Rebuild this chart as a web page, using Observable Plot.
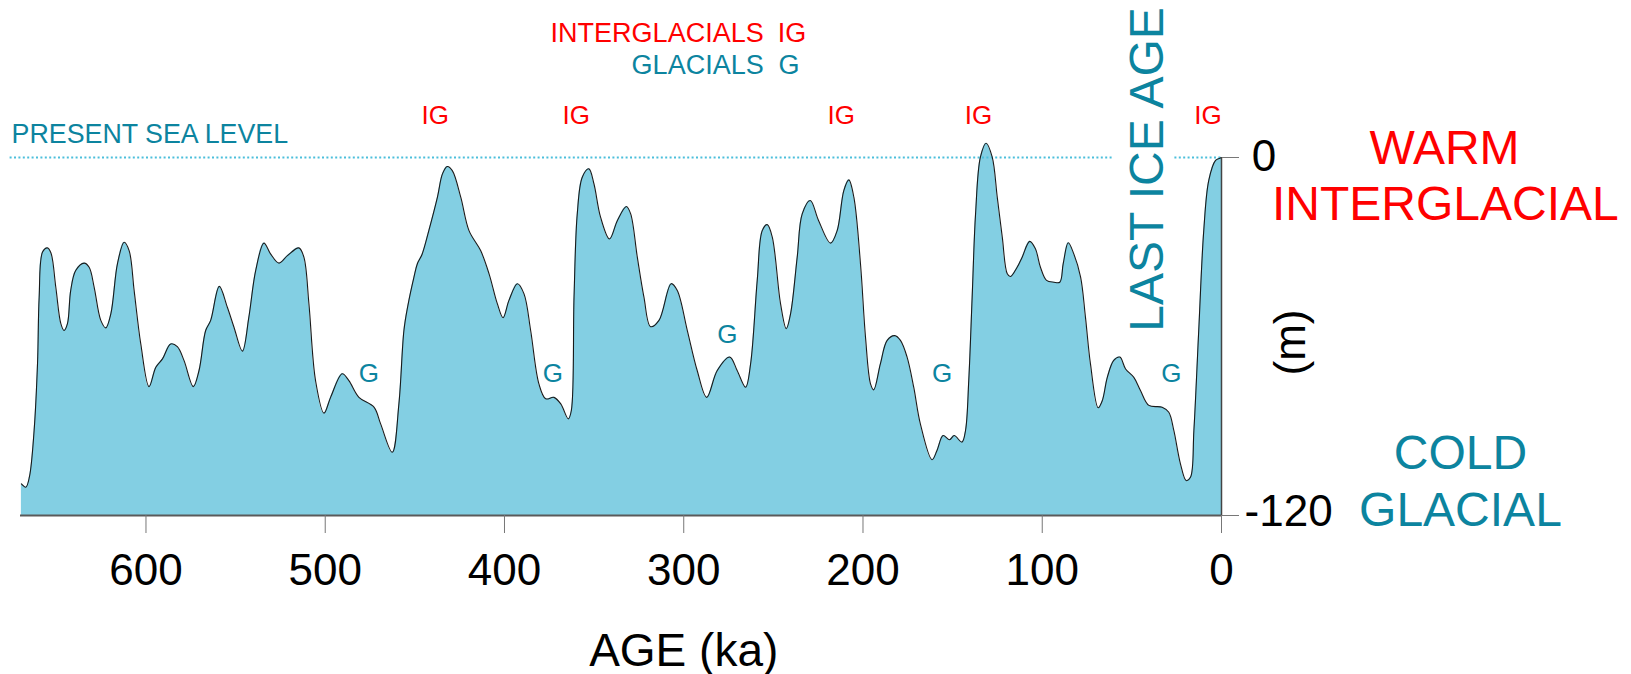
<!DOCTYPE html>
<html><head><meta charset="utf-8">
<script src="https://cdn.jsdelivr.net/npm/d3@7"></script>
<script src="https://cdn.jsdelivr.net/npm/@observablehq/plot@0.6"></script>
<style>html,body{margin:0;padding:0;background:#fff;} #chart svg{display:block;}</style>
</head><body><div id="chart"></div>
<script>
// Sea level (m, relative to present) vs age (ka)
const ages = [669.5,667,665,662.4,660.5,659.6,657.7,655,653,650.3,647.5,645.7,643.8,642,639.2,634.5,631.7,628.9,625.2,622.4,619.6,615.9,612.2,609.4,606.6,602.9,598.3,594.5,590.8,586.2,582.5,578.8,573.6,570.4,566.7,563.9,559.1,554.6,550.9,546.2,542.6,538.8,534.2,530.5,525.8,521.1,514.7,511.9,509.1,505.4,500.7,497,490.5,486.8,481.2,472.8,469.1,462.6,458.9,456.1,454,450.5,448.6,446,442.2,437.4,434.6,431.9,429.1,424.4,419.8,413.3,408.6,404,400.8,397.5,392.8,389.1,385.4,380.8,377,372.4,368.6,364.4,362.7,361.2,359.4,356.6,352.9,350.1,346.4,341.4,337,332,329.6,325.9,322.2,318.5,313.8,307,303.6,298,292.5,287.2,281.3,274.3,270.2,265.5,262.7,259,256.2,253.4,250.6,246,242.8,240.4,236.7,233.9,229.4,224.8,218.1,214.4,210.7,207.9,205.1,201.4,198.6,195.8,194,190.3,186.5,182.3,179.1,175.4,171.7,168,161.5,158.7,155.3,151.7,149.1,144.8,142.8,141,139.1,137.2,134.5,131.3,127.9,125.1,122.3,119.5,117.7,114,111.2,107,103.8,101,97.6,93.5,90.2,88.3,85.5,82.4,78.6,75.9,73.1,68.8,66.5,63.7,60.1,56.7,53.5,48.9,45.2,40.5,33.1,29.4,26.6,22.9,19.7,17.3,15.4,12.7,9.9,7.1,3.3,0.6,0];
const seaLevel = [-109.4,-110.5,-107,-91.5,-69,-47,-31.7,-30.3,-32,-43.5,-55.7,-58,-55.7,-44.6,-37.9,-35.4,-36.8,-43.5,-54.6,-57.1,-52.4,-35.6,-28.4,-31.2,-44.6,-62.5,-76.8,-70.3,-67.5,-62.5,-63.4,-68,-76.8,-71.4,-58,-54.6,-43.2,-50.2,-56.9,-64.9,-53.5,-37.9,-28.7,-32.3,-35.4,-32.9,-30.3,-33.4,-49,-74.8,-85.7,-80.4,-72.5,-74.8,-80.4,-83.7,-89.3,-98.8,-82.6,-58,-50,-40.1,-35.6,-32.5,-24.5,-13.3,-5.5,-3,-4.4,-13.3,-24.5,-31.2,-39,-49,-53.7,-47.9,-42.3,-45.7,-58,-75.9,-80.9,-80.4,-82.6,-87.6,-84.8,-46.8,-18.9,-6.6,-3.8,-8.8,-20,-27.3,-21.1,-16.4,-18.9,-33.4,-46.8,-56.7,-54.6,-42.3,-44.6,-58,-71.4,-80.4,-71.4,-66.9,-71.4,-77,-69.2,-41.2,-24.5,-22.5,-26.7,-49,-57.4,-52.4,-33.4,-18.9,-14.4,-21.1,-28.7,-24.5,-11.1,-7.5,-13.3,-35.6,-60.2,-75.9,-77.9,-69.2,-61.3,-59.7,-61.3,-66.9,-77,-89.3,-101.3,-98.2,-93.2,-94.6,-93.2,-95.4,-91.5,-74.8,-46.8,-18.9,0.1,4.8,0.1,-13.3,-26.7,-39,-39.9,-36.8,-33.4,-28.1,-30.6,-36.8,-41.2,-41.8,-41.8,-35.6,-28.6,-32.3,-40.1,-53.5,-69.2,-83.9,-81.5,-73.7,-68,-66.9,-70.9,-73.7,-78.1,-83.1,-83.7,-85.4,-91.5,-102.7,-108.3,-107.2,-91.5,-58,-24.5,-7.7,-1,-0.2,0];

const xTicks = [600, 500, 400, 300, 200, 100, 0];
const yTicks = [0, -120];
const yTickLabels = ["0", "-120"];
const yTickLabelAges = [-16.9, -12.9];
const yTickLabelLevels = [-4.4, -3.4 - 120];

// Annotation labels (age ka, level m)
const igAges = [438.6, 360.0, 212.2, 135.6, 7.5];
const igLevels = [11.3, 11.3, 11.3, 11.3, 11.3];
const gAges = [475.6, 373.0, 275.7, 155.8, 28.0];
const gLevels = [-75.1, -75.1, -62.3, -75.1, -75.1];
const seaLevelSegments = [{x1: 675.8, x2: 60.1, y: 0}, {x1: 26.0, x2: 0, y: 0}];

const warmText = ["WARM", "INTERGLACIAL"];
const warmAges = [-124.4, -124.9];
const warmLevels = [-2.1, -20.9];
const coldText = ["COLD", "GLACIAL"];
const coldAges = [-133.3, -133.3];
const coldLevels = [-104.3, -123.4];

const RED = "#ff0000";
const TEAL = "#0c849f";
const FILL = "#83cfe3";

const data = ages.map((a, i) => ({age: a, sl: seaLevel[i]}));
const mk = (xs, ys, ts) => xs.map((x, i) => ({x, y: ys[i], t: ts ? ts[i] : null}));

const chart = Plot.plot({
  width: 1631, height: 674,
  marginLeft: 20, marginRight: 410, marginTop: 157, marginBottom: 159,
  style: {fontFamily: "'Liberation Sans', Arial, Helvetica, sans-serif", background: "#fff", overflow: "visible"},
  x: {domain: [670, 0]},
  y: {domain: [-120, 0]},
  marks: [
    Plot.areaY(data, {x: "age", y1: -120, y2: "sl", curve: "catmull-rom", fill: FILL}),
    Plot.ruleY(seaLevelSegments, {y: "y", x1: "x1", x2: "x2", stroke: "#4cbfdb", strokeWidth: 1.8, strokeDasharray: "2,2.4"}),
    Plot.lineY(data, {x: "age", y: "sl", curve: "catmull-rom", stroke: "#1a1a1a", strokeWidth: 1.1}),
    Plot.ruleY([-120], {stroke: "#5a5a5a", strokeWidth: 2}),
    Plot.ruleX([0], {y1: -120, y2: 0, stroke: "#444", strokeWidth: 1.5}),
    Plot.axisX({ticks: xTicks, tickSize: 18, tickPadding: 20, fontSize: 44, stroke: "#777", fill: "#000", label: null, tickFormat: d => String(d)}),
    Plot.axisY({anchor: "right", ticks: yTicks, tickSize: 17, stroke: "#777", label: null, text: null}),
    Plot.text(mk(yTickLabelAges, yTickLabelLevels, yTickLabels), {x: "x", y: "y", text: "t", fill: "#000", fontSize: 44, textAnchor: "start", lineAnchor: "bottom"}),
    // Interglacial / glacial markers
    Plot.text(mk(igAges, igLevels), {x: "x", y: "y", text: () => "IG", fill: RED, fontSize: 26, textAnchor: "middle", lineAnchor: "bottom"}),
    Plot.text(mk(gAges, gLevels), {x: "x", y: "y", text: () => "G", fill: TEAL, fontSize: 26, textAnchor: "middle", lineAnchor: "bottom"}),
    // Legend
    Plot.text(mk([255.4, 255.4], [38.65, 28.06], ["INTERGLACIALS", "GLACIALS"]), {x: "x", y: "y", text: "t", fill: (d, i) => i === 0 ? RED : TEAL, fontSize: 27, textAnchor: "end", lineAnchor: "bottom"}),
    Plot.text(mk([247.6, 247.2], [38.65, 28.06], ["IG", "G"]), {x: "x", y: "y", text: "t", fill: (d, i) => i === 0 ? RED : TEAL, fontSize: 27, textAnchor: "start", lineAnchor: "bottom"}),
    // Present sea level
    Plot.text(mk([675.0], [4.79], ["PRESENT SEA LEVEL"]), {x: "x", y: "y", text: "t", fill: TEAL, fontSize: 26.8, textAnchor: "start", lineAnchor: "bottom"}),
    // Last ice age
    Plot.text(mk([32.5], [-4.0], ["LAST ICE AGE"]), {x: "x", y: "y", text: "t", fill: TEAL, fontSize: 48, textAnchor: "middle", lineAnchor: "bottom", rotate: -90}),
    // Units
    Plot.text(mk([-46.8], [-62.0], ["(m)"]), {x: "x", y: "y", text: "t", fill: "#000", fontSize: 44, textAnchor: "middle", lineAnchor: "bottom", rotate: -90}),
    // Warm / cold
    Plot.text(mk(warmAges, warmLevels, warmText), {x: "x", y: "y", text: "t", fill: RED, fontSize: 48, textAnchor: "middle", lineAnchor: "bottom"}),
    Plot.text(mk(coldAges, coldLevels, coldText), {x: "x", y: "y", text: "t", fill: TEAL, fontSize: 48, textAnchor: "middle", lineAnchor: "bottom"}),
    // X axis title
    Plot.text(mk([300], [-170.5], ["AGE (ka)"]), {x: "x", y: "y", text: "t", fill: "#000", fontSize: 46, textAnchor: "middle", lineAnchor: "bottom"})
  ]
});
document.getElementById("chart").append(chart);
</script></body></html>
